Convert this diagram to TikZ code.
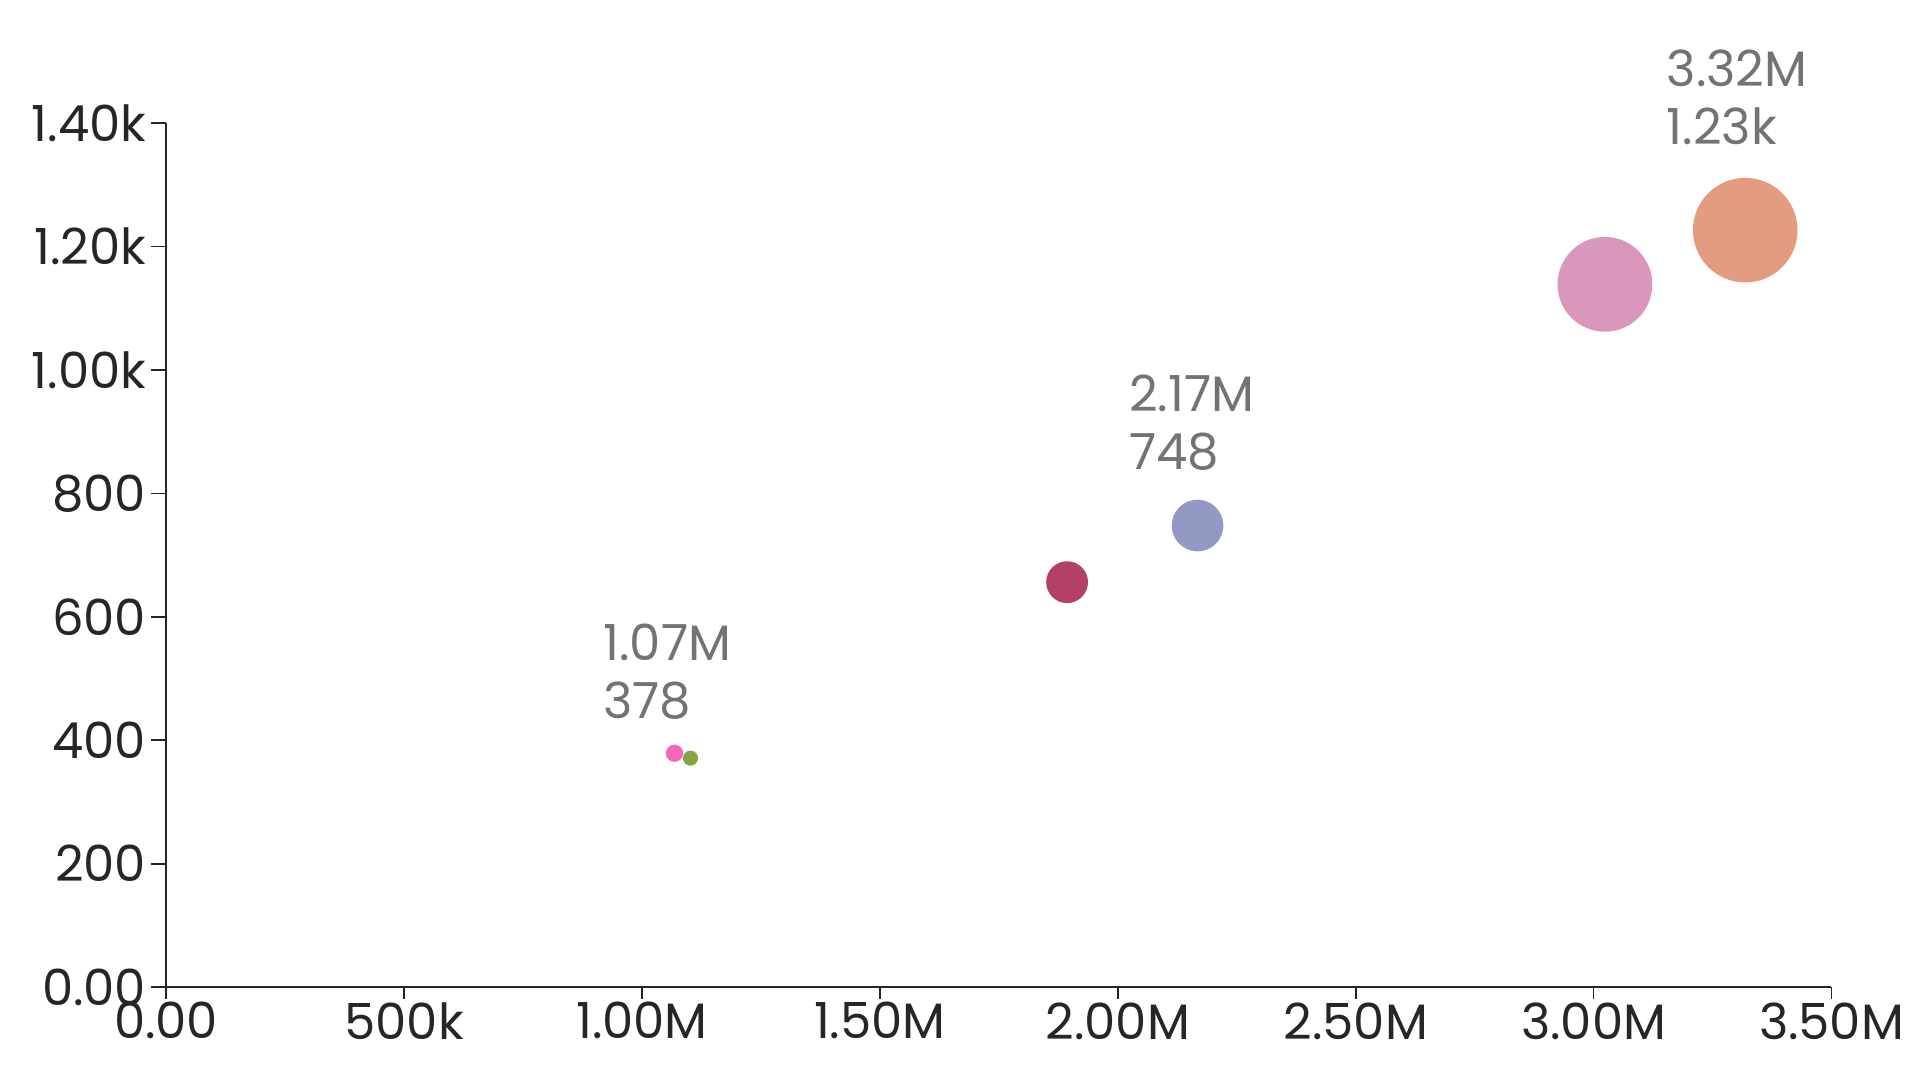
\documentclass[tikz,border=0pt]{standalone}
\usepackage{fontspec}
\setmainfont{Poppins}
\usetikzlibrary{positioning}
\tikzset{
    axis line/.style={black!85,thick},
    tick label/.style={font=\fontsize{23}{26}\selectfont,text=black!85,inner sep=2pt},
    value label/.style={font=\fontsize{23}{27}\selectfont,text=black!55,align=left,inner sep=0pt},
    bubble/.style={circle,inner sep=0pt,draw=none,fill=#1},
}
\begin{document}
\begin{tikzpicture}[x=0.02cm,y=-0.02cm]
    \useasboundingbox (0,0) rectangle (1560,877.5);
    % axes
    \draw[axis line] (135,100) -- (135,802) -- (1488,802);
    \foreach \val/\lab in {0/0.00,200/200,400/400,600/600,800/800,1000/1.00k,1200/1.20k,1400/1.40k}
        \draw[axis line] (135,802-\val*0.5014) -- +(-12,0)
            node[tick label,left] {\lab};
    \foreach \val/\lab in {0/0.00,0.5/500k,1/1.00M,1.5/1.50M,2/2.00M,2.5/2.50M,3/3.00M,3.5/3.50M}
        \draw[axis line] (135+\val*386.6,802) -- +(0,10)
            node[tick label,below,inner sep=1pt] {\lab};

    % bubbles
    \node[bubble={magenta!60!white},minimum size=8pt] (p1) at (548,612) {};
    \node[bubble={yellow!60!green!70!black},minimum size=7pt] (p2) at (561,616) {};
    \node[bubble={purple!70!white!85!black},minimum size=0.68cm] (p3) at (867,473) {};
    \node[bubble={cyan!30!blue!40!white!85!black},minimum size=0.84cm] (p4) at (973,427) {};
    \node[bubble={red!45!magenta!30!white!85!black},minimum size=1.54cm] (p5) at (1304,231) {};
    \node[bubble={red!30!brown!60!white},minimum size=1.7cm] (p6) at (1418,187) {};

    % labels
    \node[value label,anchor=south west] (l1) at (490,585) {1.07M\\378};
    \node[value label,anchor=south west] (l4) at (917,383) {2.17M\\748};
    \node[value label,anchor=south west] (l6) at (1354,118) {3.32M\\1.23k};
\end{tikzpicture}
\end{document}
